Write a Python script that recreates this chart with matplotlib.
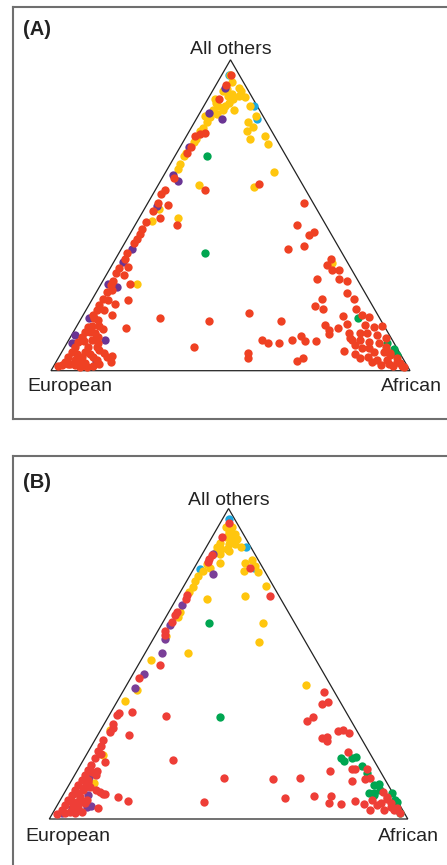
import numpy as np
import matplotlib
matplotlib.use("Agg")
import matplotlib.pyplot as plt
from matplotlib.patches import Polygon

plt.rcParams['font.family'] = ['Liberation Sans', 'DejaVu Sans']

# Ancestry proportions (percent): African and "All others"; European is the remainder.
# ---------------- Panel A ----------------
A_red = [(2.5,95),(2.7,92),(3.2,87.3),(4.7,76.4),(3.6,76),(2.4,75.4),(3,72),(3,70),(3.4,62),(28,60),
         (14,58),(2.8,58),(2.4,56.7),(2.8,54),(6,53.4),(2.6,51.4),(6,49),(2.7,47.7),(11.5,47),(2.6,45.7),
         (2.7,44),(2.6,42.5),(2.7,41),(2.2,37.7),(2.5,36),(4.6,33.5),(2.4,33),(2.4,31.3),(5,30.7),(8,28),
         (2.8,29),(3,27.5),(2.8,25.4),(3,23),(3,21),(3,19.5),(2.8,18),(7,21.6),(10,22.7),(8,18),
         (14,13.6),(22,17),(36,7.6),(36,16),(46,18.4),(56,16),(54,9.8),(56,9),(59,9),(52,5.8),
         (53,4),(62,10),(64,11.3),(66,9.5),(69,9.7),(67,3),(68,4.2),(43.5,54),(45,47),(50,43.6),
         (51,44.5),(46.5,39),(50.6,40),(60,36),(60,34),(62,32.4),(64,32.4),(59.5,29.4),(65.6,29.4),(68,28.8),
         (70,25),(73,23),(75,20),(64,23),(66,19.7),(63,20.8),(69,14.8),(71,13),(71.5,11.7),(73,13.8),
         (72.6,17.6),(75,15),(77,12),(78,10.4),(78.5,6.3),(84,4),(80.6,8.2),(77.7,17.9),(80,17.4),(80,14.7),
         (83,14),(82,12),(85,11.5),(81,9.9),(84,9.3),(87,8.8),(83,7.2),(87,6.1),(89.6,6.1),(92,5),
         (89,3.4),(91.8,3.4),(95,2.9),(91,1.8),(94.6,1.5),(97,1.5),(88,2.9),(79,9.9),(91.6,5.6),(94.3,4),
         (96,2.4),(97.6,1.3),(89.6,7.7),(85,7.2),(86,4.5),(93,2.2),(82,5.5),(80,12),(85,14.5),(88,10.5),
         (3.3,14),(3.2,12.5),(3,11),(3,9.3),(2.8,7.7),(2.7,6.1),(2.6,4.5),(2.5,2.9),(2.1,1.8),(1.3,1.5),
         (6.3,12),(6.4,9.9),(6.5,7.7),(6.4,6.1),(6.3,4.5),(6.2,2.9),(5.8,1.8),(4.2,2.2),(10,6.6),(9.5,4.5),
         (8.3,2.4),(7.4,1.3),(12,5.6),(14.6,4.7),(15.3,2.9),(13.3,4.5),(5,16.3),(4.3,14.3),(5,19.5),(4.5,22.7),
         (4.5,5.5),(4.5,9.5),(8.2,5.5),(8.5,9),(11,3.5),(12.5,2),(3.5,17),(4,26),(9.5,1.2),(4.5,12.5),
         (7.5,11),(5,3.5),(9,7.5),(11,1.5),(6,14.5),(3.5,2.2),(7.8,13.5)]
A_yellow = [(4,93),(7,91),(8,90),(10,88),(6,89),(5,88.5),(3,90),(3,86),(6.5,86),(9,84),
            (3,84),(3.5,81.5),(3.4,80),(3.4,78),(3,77),(3,74.6),(3,73.5),(2.6,70),(2.5,69),(2.6,66.6),
            (3,65),(4,85),(2,87.4),(8,88.5),(7,87.4),(6,85),(6,83.7),(5,82.6),(2,82),(2.4,95),
            (3.6,90.7),(13,85),(16,82),(15,80),(17,78.5),(16,77),(18,74.6),(22,75.4),(24,73),(30,64),
            (27,59),(11.5,59.6),(11,49),(4,48),(10,28),(4,52),(61,34.5)]
A_purple = [(3,91),(2.5,83),(7,81),(2.5,72),(2.4,63),(5,61),(3,53),(3,39),(5,27),(2,28),
            (2,17),(10,10),(11,3),(1.4,9),(1,11.5),(2.6,35)]
A_green = [(9,69),(24,38),(77,17),(89,9),(94,5),(92,7)]
A_cyan = [(2,95),(14,85),(17,81)]

# ---------------- Panel B ----------------
B_red = [(2.5,95.3),(2.9,90.7),(2.9,85),(2.8,83.7),(3,82.8),(15.4,81),(25.7,71.7),(2.3,72.3),(2.5,71),(2.3,66.6),
         (2.3,65.7),(2.3,63.6),(2,60.5),(2.5,59.4),(6,49.5),(2.4,45.4),(2.2,34.3),(2.2,33.4),(5.9,34.5),(16,33.2),
         (2.6,30.5),(2.8,28),(8.6,27),(2.4,25.4),(2.7,23.4),(2.8,21.8),(6.4,18.4),(3,19.6),(3.1,17.3),(3,15.7),
         (6,14.3),(4.9,12),(4.8,10.4),(9.8,8.8),(11.5,8.2),(8.5,9.3),(7.4,6.1),(15.7,7.2),(19,5.8),(12,3.4),
         (25,19),(40.5,5.4),(42,13.3),(56,12.8),(63.3,13.2),(62.4,6.9),(70,7.5),(75,7.3),(75.5,5.3),(79,4.8),
         (82.4,5.9),(85.3,4.8),(70.7,15.4),(56,31.5),(57,33),(56,41),(57.7,36.9),(59,37.7),(63,26),(64.3,26.4),
         (65,25),(66.4,28.3),(67.7,28.7),(69.8,27.8),(72.4,21.7),(76.5,16),(77.4,16),(80.6,16.1),(78.4,12.2),(81.6,12.8),
         (82.7,13.3),(87,6.1),(88.7,8.8),(90.6,7.2),(89.9,5),(92.7,5),(91.8,2.9),(94.6,2.9),(96.9,1.8),(89.2,4.5),
         (95.3,3.4),(91,6.5),(93.5,3.8),(88,3),
         (2.9,14.1),(2.8,12.5),(2.6,10.9),(2.5,9.3),(2.4,7.7),(2.3,6.1),(2.1,4.5),(2,2.9),(1.5,1.5),(4.7,11.5),
         (4.8,9.3),(5,7.2),(4.9,5.6),(4.7,4),(4.6,2.3),(6.4,3.4),(6.3,1.8),(6.7,5.6),(6.2,10.4),(3.5,1.8),
         (4.6,12.5),(4.2,15.2),(11,8),(7.5,5),(7.9,2.2),(3.2,29.3),(3.5,5.5),(3.5,8.5),(5.5,15.5),(3.8,21)]
B_yellow = [(2.2,94),(4,94),(3.9,92.3),(6,91.8),(3.8,90.7),(5.8,90.2),(7.2,90.2),(3.2,89),(5.7,88.6),(7.6,88.6),
            (3,87.5),(6,87),(3.4,86),(4.5,87),(6.8,86.4),(5,85.3),(9.5,87.7),(13.4,82.6),(14.7,83.5),(14.3,79.8),
            (16.7,81.6),(18.4,79.4),(6.4,82.6),(2.9,82),(3,80),(2.4,78.4),(2.3,76.8),(2.8,74.6),(2.6,73),(23,75),
            (18.8,71.7),(8.5,71),(3.2,66.6),(3.3,65),(28,63),(30,57),(12,53.5),(2.6,51.3),(3.7,41.4),(2.2,38),
            (50,43),(4.8,20.6),(6.6,11.5),(2.7,28.6),(3,59),(4.4,81)]
B_purple = [(3,85.3),(6.3,79),(2.5,69),(2.5,62.5),(3.3,58),(4.6,53.5),(3.1,46.8),(2.9,42.2),(5.6,14.5),(4.4,13.6),
            (7,7.7),(9.4,4.3),(8.4,4),(5.1,4.2),(4.6,3.4),(2.6,1.8)]
B_green = [(13,63),(31,33),(71.4,19.7),(72.8,18.6),(74.7,19.7),(75.5,19.9),(78.8,17),(81.3,14.7),(85,10.9),(86.3,11.2),
           (85,8.4),(86.5,8.4),(87.7,9.3),(86.6,7.7),(94.2,5.6),(97,1.8),(91.5,8.3),(93.5,6.1)]
B_cyan = [(1.7,96.6),(11,87.5),(16.5,81),(1.8,80.5)]

corner_labels = ["European", "African", "All others"]
panel_labels = ["(A)", "(B)"]

COL_CYAN = "#1BA9E0"
COL_YELLOW = "#FFC60E"
COL_GREEN = "#00A651"
PANEL_STYLE = {
    "A": {"red": "#EF4123", "purple": "#6A3594"},
    "B": {"red": "#EE3E37", "purple": "#7A3F98"},
}

H = np.sqrt(3) / 2


def to_xy(pairs):
    arr = np.asarray(pairs, dtype=float) / 100.0
    afr, oth = arr[:, 0], arr[:, 1]
    return afr + oth / 2.0, oth * H


W, HPX = 447, 865
fig = plt.figure(figsize=(W / 100, HPX / 100), dpi=100)


def panel(rect_px, xlim, ylim, groups, cols, label, label_base_px, top_gap, bot_gap):
    l, t, r, b = rect_px
    ax = fig.add_axes([l / W, 1 - b / HPX, (r - l) / W, (b - t) / HPX])
    ax.set_xlim(*xlim)
    ax.set_ylim(*ylim)
    ax.set_xticks([])
    ax.set_yticks([])
    for s in ax.spines.values():
        s.set_color("#6F6F6F")
        s.set_linewidth(1.5)
    tri = Polygon([[0, 0], [1, 0], [0.5, H]], closed=True, fill=False,
                  edgecolor="#222222", linewidth=0.9, zorder=1)
    ax.add_patch(tri)
    for pts, c in zip(groups, cols):
        x, y = to_xy(pts)
        ax.scatter(x, y, s=36, c=c, linewidths=0, zorder=2)
    fs = 14
    ax.text(0.5, H + top_gap, corner_labels[2], ha="center", va="baseline", fontsize=fs, color="#222222")
    ax.text(0.053, -bot_gap, corner_labels[0], ha="center", va="baseline", fontsize=fs, color="#222222")
    ax.text(1.003, -bot_gap, corner_labels[1], ha="center", va="baseline", fontsize=fs, color="#222222")
    fig.text(22.5 / W, 1 - label_base_px / HPX, label, ha="left", va="baseline",
             fontsize=14.5, fontweight="bold", color="#222222")
    return ax


panel((13, 7, 449, 419), ((13 - 51) / 359, (449 - 51) / 359), (-(419 - 370.7) / 359, (370.7 - 7) / 359),
      [A_cyan, A_yellow, A_green, A_purple, A_red],
      [COL_CYAN, COL_YELLOW, COL_GREEN, PANEL_STYLE["A"]["purple"], PANEL_STYLE["A"]["red"]],
      panel_labels[0], 35, 0.015, 0.057)

panel((13, 456, 449, 870), ((13 - 49.3) / 358.5, (449 - 49.3) / 358.5), (-(870 - 819) / 358.5, (819 - 456) / 358.5),
      [B_cyan, B_yellow, B_green, B_purple, B_red],
      [COL_CYAN, COL_YELLOW, COL_GREEN, PANEL_STYLE["B"]["purple"], PANEL_STYLE["B"]["red"]],
      panel_labels[1], 487.5, 0.011, 0.061)

fig.savefig("out.png", dpi=100)
